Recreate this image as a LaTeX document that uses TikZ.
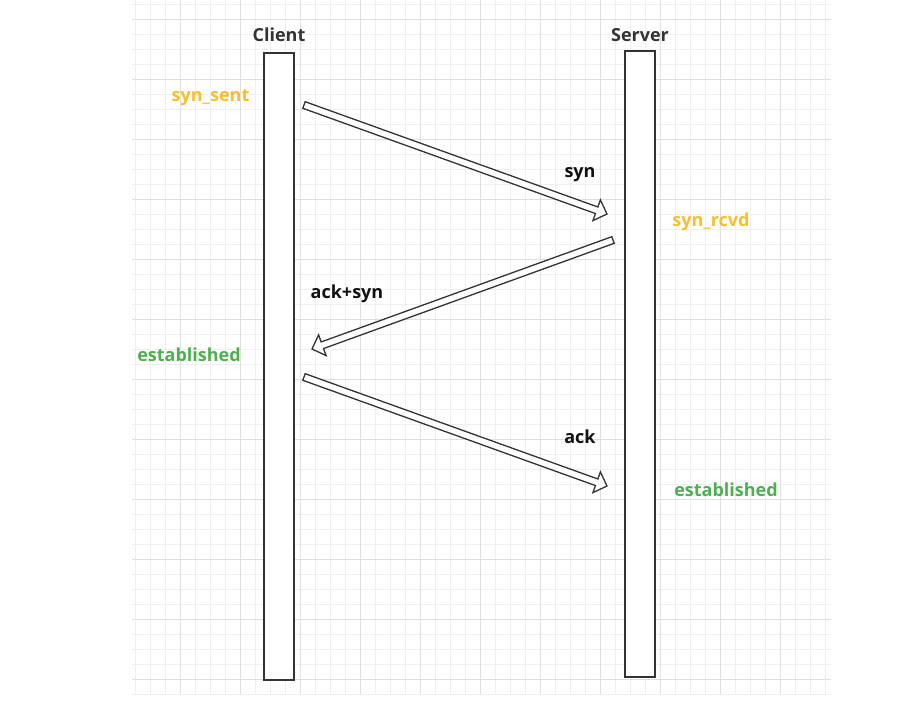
\documentclass[tikz,border=0pt]{standalone}
\usepackage{fontspec}
\setmainfont{Open Sans}
\usetikzlibrary{calc}

\definecolor{linecol}{HTML}{333333}
\definecolor{msgcol}{HTML}{111111}
\definecolor{stateyel}{HTML}{F8BE2E}
\definecolor{stategrn}{HTML}{4CAF50}
\definecolor{gridminor}{HTML}{EFEFEF}
\definecolor{gridmajor}{HTML}{DFDFDF}

\tikzset{
  minorline/.style={draw=gridminor, line width=1pt},
  majorline/.style={draw=gridmajor, line width=1pt},
  lifeline/.style={draw=linecol, line width=2pt, fill=white, inner sep=0pt, minimum width=30},
  hollow/.style={draw=linecol, line width=1.3pt, fill=white, line join=miter},
  actor/.style={text=linecol, anchor=base},
  msg/.style={text=msgcol, anchor=base},
  waiting/.style={text=stateyel, anchor=base},
  open/.style={text=stategrn, anchor=base}
}

% hollow block arrow from #1 to #2
\newcommand{\hollowarrow}[2]{%
  \path let \p1=($(#2)-(#1)$) in
    \pgfextra{\pgfmathsetmacro\arrang{atan2(\y1,\x1)}%
      \pgfmathsetmacro\arrlen{veclen(\x1,\y1)}%
      \xdef\arrang{\arrang}\xdef\arrlen{\arrlen}};
  \draw[hollow, shift={(#1)}, rotate=\arrang]
    (0,-3.5) -- (\arrlen-11,-3.5) -- (\arrlen-11,-11) -- (\arrlen,0)
    -- (\arrlen-11,11) -- (\arrlen-11,3.5) -- (0,3.5) -- cycle;
}

\begin{document}
\begin{tikzpicture}[x=1pt, y=-1pt, font=\fontsize{18}{20}\selectfont\bfseries]
  \useasboundingbox (0,0) rectangle (904,710);
  % background grid
  \foreach \i in {0,...,46} {
    \draw[minorline] (132,4+15*\i) -- (831,4+15*\i);
    \draw[minorline] (135+15*\i,0) -- (135+15*\i,694);
  }
  \foreach \i in {0,...,11} \draw[majorline] (132,19+60*\i) -- (831,19+60*\i);
  \foreach \i in {0,...,10} \draw[majorline] (180+60*\i,0) -- (180+60*\i,694);

  % lifelines
  \node[lifeline, minimum height=627] (client) at (279,366.5) {};
  \node[lifeline, minimum height=626] (server) at (640,364) {};
  \node[actor] (clientlbl) at ($(client.north)+(0,-11)$) {Client};
  \node[actor] (serverlbl) at ($(server.north)+(0,-9)$) {Server};

  % handshake messages
  \coordinate (synA) at (304,105);
  \coordinate (synB) at (607,214);
  \coordinate (acksynA) at (613,240);
  \coordinate (acksynB) at (312,349);
  \coordinate (ackA) at (304,377);
  \coordinate (ackB) at (607,486);
  \hollowarrow{synA}{synB}
  \hollowarrow{acksynA}{acksynB}
  \hollowarrow{ackA}{ackB}

  \node[msg] (syn) at (580,177) {syn};
  \node[msg] (acksyn) at (347,298) {ack+syn};
  \node[msg] (ack) at (580,443) {ack};

  % states
  \node[waiting] (synsent) at (210.5,101) {syn\_sent};
  \node[waiting] (synrcvd) at (711,226) {syn\_rcvd};
  \node[open] (estclient) at (189,361) {established};
  \node[open] (estserver) at (726,496) {established};
\end{tikzpicture}
\end{document}
